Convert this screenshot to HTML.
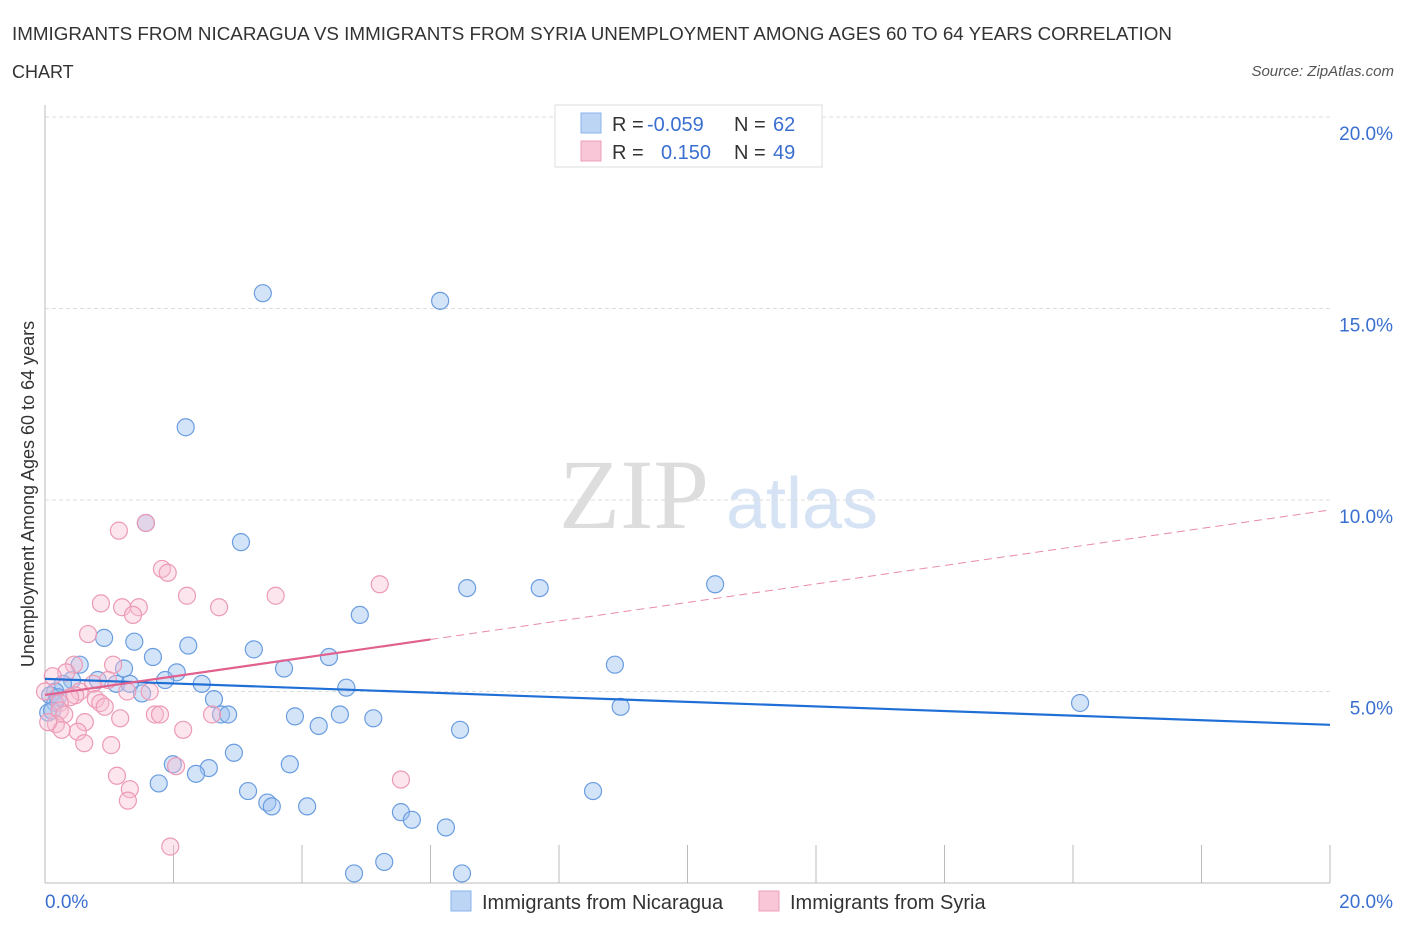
<!DOCTYPE html>
<html><head><meta charset="utf-8"><style>
body{margin:0;background:#fff;font-family:"Liberation Sans",sans-serif;}
svg text{font-family:"Liberation Sans",sans-serif;}
</style></head><body>
<svg id="c" width="1406" height="930">
<text x="12" y="40" font-size="18" fill="#333" textLength="1160" lengthAdjust="spacingAndGlyphs">IMMIGRANTS FROM NICARAGUA VS IMMIGRANTS FROM SYRIA UNEMPLOYMENT AMONG AGES 60 TO 64 YEARS CORRELATION</text>
<text x="12" y="78" font-size="18" fill="#333">CHART</text>
<text x="1394" y="76" font-size="15" fill="#555" font-style="italic" text-anchor="end">Source: ZipAtlas.com</text>
<text x="634" y="528" font-size="100" fill="#ddd" text-anchor="middle" style="font-family:'Liberation Serif',serif">ZIP</text>
<text x="802" y="528" font-size="72" fill="#d5e3f5" text-anchor="middle">atlas</text>
<text transform="translate(34,494) rotate(-90)" font-size="18" fill="#333" text-anchor="middle">Unemployment Among Ages 60 to 64 years</text>
<g id="grid"></g><g id="pts"></g><g id="lines"></g>
<g>
<rect x="555" y="105" width="267" height="62" fill="#fff" stroke="#ddd"/>
<rect x="581" y="113" width="20" height="20" fill="#bcd5f5" stroke="#8ab3ea"/>
<rect x="581" y="141" width="20" height="20" fill="#f8c6d6" stroke="#eea0b8"/>
<text x="612" y="131" font-size="20" fill="#333">R = <tspan x="647" fill="#3a6fd0">-0.059</tspan><tspan x="734">N = </tspan><tspan x="773" fill="#3a6fd0">62</tspan></text>
<text x="612" y="159" font-size="20" fill="#333">R = <tspan x="661" fill="#3a6fd0">0.150</tspan><tspan x="734">N = </tspan><tspan x="773" fill="#3a6fd0">49</tspan></text>
</g>
<g>
<rect x="451" y="891" width="20" height="20" fill="#bcd5f5" stroke="#8ab3ea"/>
<text x="482" y="909" font-size="20" fill="#333">Immigrants from Nicaragua</text>
<rect x="759" y="891" width="20" height="20" fill="#f8c6d6" stroke="#eea0b8"/>
<text x="790" y="909" font-size="20" fill="#333">Immigrants from Syria</text>
</g>
</svg>
<script>
const yTicks=[5,10,15,20];
const xTickLabels=["0.0%","20.0%"];
const blueX=[3.39,6.15,2.19,1.57,3.05,10.43,6.57,7.70,4.90,0.92,1.39,2.23,3.25,1.68,0.54,8.87,1.23,2.05,3.72,4.42,1.87,0.42,2.44,1.11,1.32,0.82,0.28,0.16,1.51,2.63,4.69,16.11,8.96,2.74,2.85,3.89,4.26,4.59,5.11,6.46,2.94,1.99,2.55,2.35,3.81,1.77,3.16,3.46,3.53,4.08,5.54,5.71,6.24,8.53,5.28,4.81,6.49,0.08,0.16,0.05,0.20,0.11];
const blueY=[15.4,15.2,11.9,9.4,8.9,7.8,7.7,7.7,7.0,6.4,6.3,6.2,6.1,5.9,5.7,5.7,5.6,5.5,5.6,5.9,5.3,5.3,5.2,5.2,5.2,5.3,5.2,5.0,4.95,4.8,5.1,4.7,4.6,4.4,4.4,4.35,4.1,4.4,4.3,4.0,3.4,3.1,3.0,2.85,3.1,2.6,2.4,2.1,2.0,2.0,1.85,1.65,1.45,2.4,0.55,0.25,0.25,4.9,4.7,4.45,4.85,4.5];
const pinkX=[1.15,1.57,1.82,1.91,2.21,5.21,2.71,3.59,0.87,1.20,1.46,1.37,0.67,0.45,1.06,0.33,0.12,0.75,0.54,0.47,0.79,0.39,0.23,0.98,1.63,1.28,0.86,0.93,1.71,0.23,0.30,0.62,0.17,1.17,1.79,2.15,0.51,0.26,0.61,1.03,2.04,1.12,1.32,1.29,5.54,2.60,1.95,0.00,0.05];
const pinkY=[9.2,9.4,8.2,8.1,7.5,7.8,7.2,7.5,7.3,7.2,7.2,7.0,6.5,5.7,5.7,5.5,5.4,5.2,5.0,4.9,4.8,4.85,4.7,5.3,5.0,5.0,4.7,4.6,4.4,4.5,4.4,4.2,4.15,4.3,4.4,4.0,3.95,4.0,3.65,3.6,3.05,2.8,2.45,2.15,2.7,4.4,0.95,5.0,4.2];
const blueTrend=[5.33,4.13];
const pinkTrend=[4.91,9.74];
const pinkSolidEnd=6.0;
const X=v=>45+v/20*1285, Y=v=>883-v/5*191.5;
const NS="http://www.w3.org/2000/svg";
function mk(t,a,p){const e=document.createElementNS(NS,t);for(const k in a)e.setAttribute(k,a[k]);p.appendChild(e);return e;}
const g=document.getElementById('grid'),P=document.getElementById('pts'),L=document.getElementById('lines');
yTicks.forEach(v=>{const l=mk('line',{x1:45,x2:1330,y1:Y(v),y2:Y(v),stroke:'#ddd','stroke-dasharray':'4,3'},g);


const t=mk('text',{x:1393,y:Y(v)+23,'font-size':19,fill:'#3a6fd0','text-anchor':'end'},g);t.textContent=v.toFixed(1)+'%';

});
mk('line',{x1:45,x2:45,y1:105,y2:883,stroke:'#bbb'},g);
mk('line',{x1:45,x2:1330,y1:883,y2:883,stroke:'#bbb'},g);
for(let i=1;i<=10;i++){mk('line',{x1:X(i*2),x2:X(i*2),y1:845,y2:883,stroke:'#bbb'},g);}
xTickLabels.forEach((s,i)=>{const t=mk('text',{x:i?1393:45,y:908,'font-size':19,fill:'#3a6fd0','text-anchor':i?'end':'start'},g);t.textContent=s;

});
blueX.forEach((x,i)=>{const c=mk('circle',{cx:X(x),cy:Y(blueY[i]),r:8.5,fill:'rgba(160,195,240,0.45)',stroke:'#6a9de0','stroke-width':1.2},P);

});
pinkX.forEach((x,i)=>{const c=mk('circle',{cx:X(x),cy:Y(pinkY[i]),r:8.5,fill:'rgba(248,190,210,0.4)',stroke:'#ec9ab5','stroke-width':1.2},P);

});
const bl=mk('line',{x1:X(0),y1:Y(blueTrend[0]),x2:X(20),y2:Y(blueTrend[1]),stroke:'#1f6fd6','stroke-width':2.2},L);


const pm=pinkTrend[0]+(pinkTrend[1]-pinkTrend[0])*pinkSolidEnd/20;
const ps=mk('line',{x1:X(0),y1:Y(pinkTrend[0]),x2:X(pinkSolidEnd),y2:Y(pm),stroke:'#e0608e','stroke-width':2.2},L);


const pd=mk('line',{x1:X(pinkSolidEnd),y1:Y(pm),x2:X(20),y2:Y(pinkTrend[1]),stroke:'#e88aaa','stroke-width':1,'stroke-dasharray':'8,5'},L);


</script>
</body></html>
